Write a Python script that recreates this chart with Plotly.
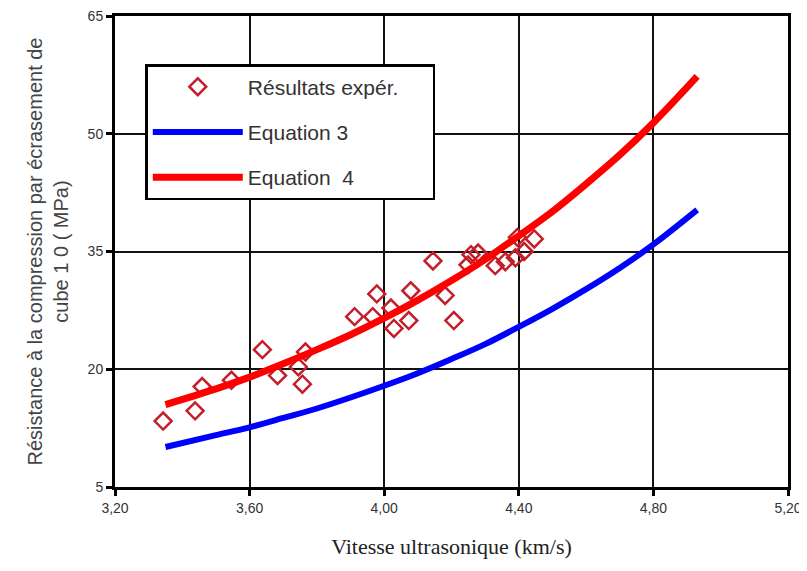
import plotly.graph_objects as go

# Experimental results (km/s, MPa)
exp_x = [3.343, 3.438, 3.459, 3.546, 3.638, 3.683, 3.745, 3.757, 3.766, 3.912,
         3.966, 3.978, 4.020, 4.029, 4.073, 4.079, 4.145, 4.181, 4.207, 4.249,
         4.258, 4.279, 4.330, 4.360, 4.390, 4.416, 4.446, 4.396]
exp_y = [13.4, 14.7, 17.8, 18.6, 22.5, 19.2, 20.3, 18.1, 22.2, 26.7,
         26.7, 29.6, 27.8, 25.2, 26.2, 30.0, 33.8, 29.4, 26.2, 33.3,
         34.6, 34.8, 33.2, 33.7, 34.2, 35.0, 36.6, 36.8]

# Equation curves
eq_x = [3.35, 3.50, 3.60, 3.70, 3.80, 3.90, 4.00, 4.10, 4.20, 4.30,
        4.40, 4.50, 4.60, 4.70, 4.80, 4.93]
eq3_y = [10.1, 11.6, 12.6, 13.8, 15.0, 16.4, 17.9, 19.5, 21.3, 23.2,
         25.4, 27.7, 30.2, 32.9, 35.9, 40.3]
eq4_y = [15.5, 17.5, 19.0, 20.7, 22.5, 24.4, 26.5, 28.8, 31.3, 34.0,
         37.0, 40.1, 43.6, 47.3, 51.4, 57.3]

x_ticks = [3.2, 3.6, 4.0, 4.4, 4.8, 5.2]
x_labels = ["3,20", "3,60", "4,00", "4,40", "4,80", "5,20"]
y_ticks = [5, 20, 35, 50, 65]
y_labels = ["5", "20", "35", "50", "65"]

fig = go.Figure()
fig.add_trace(go.Scatter(
    x=exp_x, y=exp_y, mode="markers",
    name="Résultats expér.\u00a0\u00a0\u00a0\u00a0\u00a0",
    legendgroup="a",
    marker=dict(symbol="diamond-open", size=13, color="#c41e2a",
                line=dict(width=2.5, color="#c41e2a")),
))
fig.add_trace(go.Scatter(
    x=eq_x, y=eq3_y, mode="lines", name="Equation 3", legendgroup="b",
    line=dict(color="#0000ff", width=6, shape="spline"),
))
fig.add_trace(go.Scatter(
    x=eq_x, y=eq4_y, mode="lines", name="Equation  4", legendgroup="c",
    line=dict(color="#ff0000", width=7, shape="spline"),
))

axis_common = dict(
    showline=True, linewidth=3, linecolor="black", mirror=True,
    showgrid=True, gridcolor="#111111", gridwidth=1.6,
    ticks="outside", ticklen=6, tickwidth=3, tickcolor="black",
    zeroline=False, automargin=False, ticklabeloverflow="allow",
    tickfont=dict(family="Liberation Sans, Arial, sans-serif", size=14, color="#333333"),
)

# page body has an 8px default margin; figure sized to fit the window
fig.update_layout(
    width=799, height=563,
    margin=dict(l=107, r=19, t=8, b=84),
    paper_bgcolor="white", plot_bgcolor="white",
    xaxis=dict(range=[3.2, 5.2], tickvals=x_ticks, ticktext=x_labels,
               title=dict(text="Vitesse ultrasonique (km/s)", standoff=24,
                          font=dict(family="Liberation Serif, Times New Roman, serif",
                                    size=22, color="#222222")),
               **axis_common),
    yaxis=dict(range=[5, 65], tickvals=y_ticks, ticktext=y_labels,
               title=dict(text="Résistance à la compression par écrasement de<br>cube 1 0 ( MPa)",
                          standoff=14,
                          font=dict(family="Liberation Sans, Arial, sans-serif",
                                    size=20, color="#444444")),
               **axis_common),
    legend=dict(
        x=0.045, y=0.898, xanchor="left", yanchor="top",
        bgcolor="white", bordercolor="black", borderwidth=2.5,
        font=dict(family="Liberation Sans, Arial, sans-serif", size=21, color="#333333"),
        itemwidth=90, tracegroupgap=15,
    ),
    showlegend=True,
)

fig.write_html("out.html")
